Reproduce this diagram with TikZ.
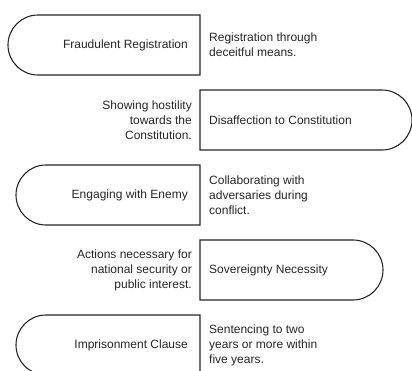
\documentclass[tikz,border=0pt]{standalone}
\usepackage{fontspec}
\setmainfont{Liberation Sans}
\begin{document}
\begin{tikzpicture}[x=1pt,y=1pt,
  shapeline/.style={draw=black!85, line width=1.1pt},
  txt/.style={inner sep=0pt, text=black!85, font=\fontsize{12}{15}\selectfont},
  lefttxt/.style={txt, anchor=east, align=right},
  righttxt/.style={txt, anchor=west, align=left}]
\useasboundingbox (0,0) rectangle (412,-370);
\clip (0,0) rectangle (412,-370);

% left-rounded term boxes
\draw[shapeline] (200,-15) -- (38,-15) arc[start angle=90,end angle=270,radius=30] -- (200,-75) -- cycle;
\draw[shapeline] (200,-165) -- (46,-165) arc[start angle=90,end angle=270,radius=30] -- (200,-225) -- cycle;
\draw[shapeline] (200,-315) -- (46,-315) arc[start angle=90,end angle=270,radius=30] -- (200,-375) -- cycle;

% right-rounded term boxes
\draw[shapeline] (200,-90) -- (382,-90) arc[start angle=90,end angle=-90,radius=30] -- (200,-150) -- cycle;
\draw[shapeline] (200,-240) -- (353,-240) arc[start angle=90,end angle=-90,radius=30] -- (200,-300) -- cycle;

% terms
\node[lefttxt]  (t1) at (188,-45)  {Fraudulent Registration};
\node[righttxt] (t2) at (209,-120) {Disaffection to Constitution};
\node[lefttxt]  (t3) at (188,-195) {Engaging with Enemy};
\node[righttxt] (t4) at (209,-270) {Sovereignty Necessity};
\node[lefttxt]  (t5) at (188,-345) {Imprisonment Clause};

% descriptions
\node[righttxt] (d1) at (209,-45)  {Registration through\\deceitful means.};
\node[lefttxt]  (d2) at (192,-120) {Showing hostility\\towards the\\Constitution.};
\node[righttxt] (d3) at (209,-195) {Collaborating with\\adversaries during\\conflict.};
\node[lefttxt]  (d4) at (192,-270) {Actions necessary for\\national security or\\public interest.};
\node[righttxt] (d5) at (209,-345) {Sentencing to two\\years or more within\\five years.};
\end{tikzpicture}
\end{document}
